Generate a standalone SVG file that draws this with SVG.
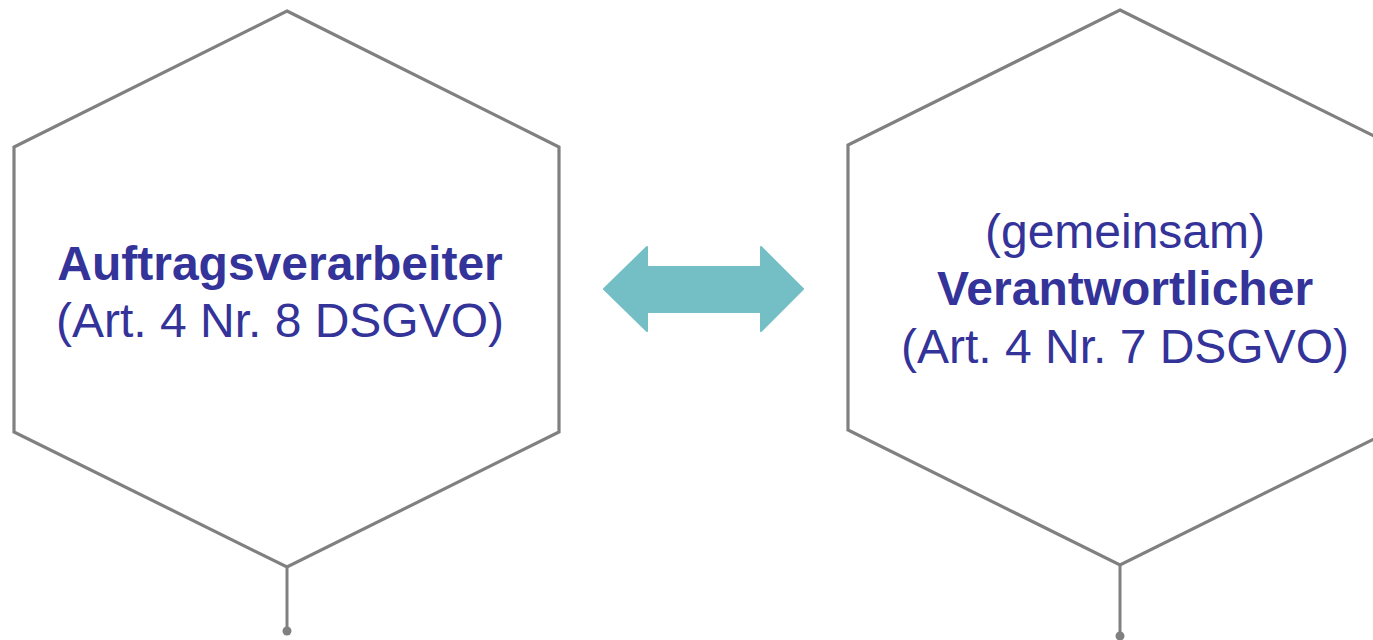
<svg xmlns="http://www.w3.org/2000/svg" width="1373" height="640" viewBox="0 0 1373 640">
<style>
.hex{fill:#fff;stroke:#808080;stroke-width:3.2;stroke-linejoin:miter}
.stem{stroke:#808080;stroke-width:3;fill:none}
.dot{fill:#808080}
.t{font-family:"Liberation Sans",Arial,sans-serif;font-size:48px;fill:#333399;text-anchor:middle}
.b{font-weight:bold}
</style>
<rect width="1373" height="640" fill="#fff"/>
<g id="node-auftragsverarbeiter">
<polygon class="hex" points="287,11 559,147 559,432 287,567 14,432 14,147"/>
<text class="t b" x="280" y="280">Auftragsverarbeiter</text>
<text class="t" x="280" y="337">(Art. 4 Nr. 8 DSGVO)</text>
</g>
<g id="node-verantwortlicher">
<polygon class="hex" points="1120,10 1392,145 1392,430 1120,565 848,430 848,145"/>
<text class="t" x="1125" y="248">(gemeinsam)</text>
<text class="t b" x="1125" y="305">Verantwortlicher</text>
<text class="t" x="1125" y="363">(Art. 4 Nr. 7 DSGVO)</text>
</g>
<g id="connectors">
<line class="stem" x1="287" y1="567" x2="287" y2="631"/>
<circle class="dot" cx="287" cy="631" r="4.5"/>
<line class="stem" x1="1120" y1="565" x2="1120" y2="636"/>
<circle class="dot" cx="1120" cy="636" r="4.5"/>
<polygon fill="#74BFC5" stroke="#74BFC5" stroke-width="2" stroke-linejoin="round" points="604,289 647,247 647,267 761,267 761,247 803,289 761,331 761,312 647,312 647,331"/>
</g>
</svg>
